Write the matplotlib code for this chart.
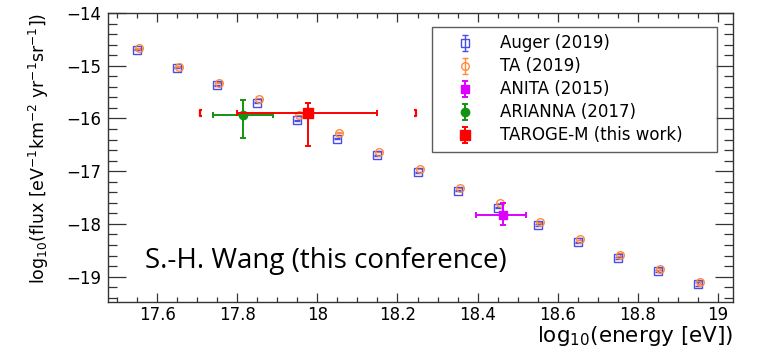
import matplotlib.pyplot as plt
from matplotlib.container import ErrorbarContainer
from matplotlib.legend_handler import HandlerErrorbar
from matplotlib.path import Path
from matplotlib.ticker import MultipleLocator

plt.rcParams['font.family'] = ['DejaVu Sans']
plt.rcParams['mathtext.default'] = 'regular'

# cosmic ray flux spectra (log10 energy / log10 flux)
auger_x = [17.55, 17.65, 17.75, 17.85, 17.95, 18.05, 18.15, 18.25,
           18.35, 18.45, 18.55, 18.65, 18.75, 18.85, 18.95]
auger_y = [-14.70, -15.04, -15.37, -15.70, -16.03, -16.38, -16.70, -17.02,
           -17.37, -17.69, -18.02, -18.35, -18.64, -18.90, -19.14]
auger_err = [0.01, 0.01, 0.01, 0.01, 0.01, 0.01, 0.01, 0.01,
             0.01, 0.01, 0.01, 0.01, 0.02, 0.02, 0.03]

ta_x = [17.555, 17.655, 17.755, 17.855, 17.955, 18.055, 18.155, 18.255,
        18.355, 18.455, 18.555, 18.655, 18.755, 18.855, 18.955]
ta_y = [-14.67, -15.02, -15.32, -15.63, -15.94, -16.27, -16.63, -16.95,
        -17.31, -17.61, -17.97, -18.28, -18.58, -18.85, -19.11]
ta_err = [0.01, 0.01, 0.01, 0.01, 0.01, 0.01, 0.01, 0.01,
          0.01, 0.01, 0.01, 0.02, 0.02, 0.02, 0.03]

# radio measurements with asymmetric errors
anita_x = [18.464]
anita_y = [-17.83]
anita_xerr = [[0.067], [0.056]]
anita_yerr = [[0.19], [0.23]]

arianna_x = [17.814]
arianna_y = [-15.94]
arianna_xerr = [[0.074], [0.074]]
arianna_yerr = [[0.43], [0.29]]

taroge_x = [17.977]
taroge_y = [-15.90]
taroge_xerr = [[0.177], [0.173]]
taroge_yerr = [[0.62], [0.19]]
taroge_sys = [17.707, 18.245]

labels = ['Auger (2019)', 'TA (2019)', 'ANITA (2015)', 'ARIANNA (2017)',
          'TAROGE-M (this work)']

c_auger = '#4b4bea'
c_ta = '#ff8a3c'
c_anita = '#dd00ff'
c_arianna = '#139313'
c_taroge = '#ff0000'

fig = plt.figure(figsize=(7.65, 3.49), dpi=100)
ax = fig.add_axes([0.1412, 0.1347, 0.8170, 0.8281])

h_auger = ax.errorbar(auger_x, auger_y, yerr=auger_err, fmt='s', ms=5.5,
                      mfc='none', mec=c_auger, mew=1.0, color=c_auger,
                      elinewidth=1.0, capsize=2, label=labels[0], zorder=3)
h_ta = ax.errorbar(ta_x, ta_y, yerr=ta_err, fmt='o', ms=5.5, mfc='none',
                   mec=c_ta, mew=1.0, color=c_ta, elinewidth=1.0, capsize=2,
                   label=labels[1], zorder=3)
h_anita = ax.errorbar(anita_x, anita_y, xerr=anita_xerr, yerr=anita_yerr,
                      fmt='s', ms=6, color=c_anita, elinewidth=1.4, capsize=2,
                      capthick=1.4, label=labels[2], zorder=4)
h_arianna = ax.errorbar(arianna_x, arianna_y, xerr=arianna_xerr,
                        yerr=arianna_yerr, fmt='o', ms=6, color=c_arianna,
                        elinewidth=1.4, capsize=2, capthick=1.4,
                        label=labels[3], zorder=4)
h_taroge = ax.errorbar(taroge_x, taroge_y, xerr=taroge_xerr, yerr=taroge_yerr,
                       fmt='s', ms=6.5, color=c_taroge, elinewidth=1.4,
                       capsize=2, capthick=1.4, label=labels[4], zorder=5)

# systematic range brackets
lbrack = Path([(0.5, 1), (0, 1), (0, -1), (0.5, -1)],
              [Path.MOVETO, Path.LINETO, Path.LINETO, Path.LINETO])
rbrack = Path([(-0.5, 1), (0, 1), (0, -1), (-0.5, -1)],
              [Path.MOVETO, Path.LINETO, Path.LINETO, Path.LINETO])
ax.plot(taroge_sys[0], taroge_y[0], marker=lbrack, ms=5, mew=1.6,
        color=c_taroge, mfc='none', ls='none', zorder=5)
ax.plot(taroge_sys[1], taroge_y[0], marker=rbrack, ms=5, mew=1.6,
        color=c_taroge, mfc='none', ls='none', zorder=5)

ax.set_xlim(17.477, 19.038)
ax.set_ylim(-19.48, -14.0)

ax.xaxis.set_minor_locator(MultipleLocator(0.05))
ax.yaxis.set_major_locator(MultipleLocator(1))
ax.yaxis.set_minor_locator(MultipleLocator(0.2))
ax.set_xticks([17.6, 17.8, 18.0, 18.2, 18.4, 18.6, 18.8, 19.0])
ax.set_xticklabels(['17.6', '17.8', '18', '18.2', '18.4', '18.6', '18.8', '19'])

ax.tick_params(which='both', direction='in', top=True, right=True,
               labelsize=12, color='#333333', width=0.9)
ax.tick_params(axis='x', which='major', length=6.5, pad=3)
ax.tick_params(axis='x', which='minor', length=3.5)
ax.tick_params(axis='y', which='major', length=13, pad=5)
ax.tick_params(axis='y', which='minor', length=6.5)
for sp in ax.spines.values():
    sp.set_linewidth(1.0)
    sp.set_color('#333333')

ax.set_xlabel('log$_{10}$(energy [eV])', fontsize=15.5, loc='right',
              labelpad=0)
ax.set_ylabel('log$_{10}$(flux [eV$^{-1}$km$^{-2}$ yr$^{-1}$sr$^{-1}$])',
              fontsize=12.5, loc='top', labelpad=11)

ax.text(0.059, 0.118, 'S.-H. Wang (this conference)', transform=ax.transAxes,
        fontsize=20, family='Open Sans', ha='left', va='baseline')

leg = ax.legend(handles=[h_auger, h_ta, h_anita, h_arianna, h_taroge],
                loc='upper left', bbox_to_anchor=(0.5184, 0.0, 0.456, 0.9516),
                mode='expand', fontsize=12, frameon=True, fancybox=False,
                numpoints=1, handlelength=3.1, handletextpad=0.5,
                labelspacing=0.3, borderpad=0.45, borderaxespad=0,
                handler_map={ErrorbarContainer:
                             HandlerErrorbar(xerr_size=0, yerr_size=0.48)})
leg.get_frame().set_edgecolor('#333333')
leg.get_frame().set_linewidth(1.0)

fig.savefig('out.png', dpi=100)
